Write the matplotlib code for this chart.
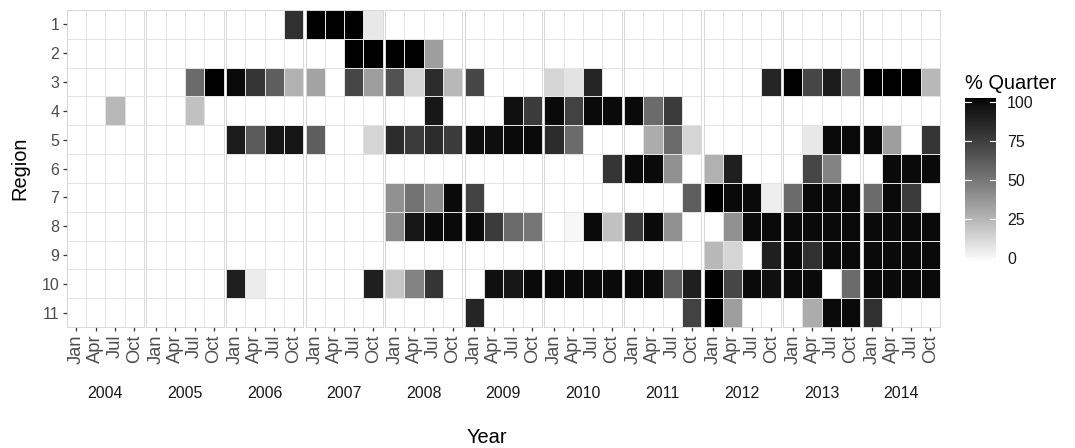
import numpy as np
import matplotlib
matplotlib.use("Agg")
import matplotlib.pyplot as plt
from matplotlib.colors import ListedColormap

plt.rcParams['font.family'] = ['Liberation Sans', 'DejaVu Sans']

# ---------------- data ----------------
years = [2004, 2005, 2006, 2007, 2008, 2009, 2010, 2011, 2012, 2013, 2014]
quarters = ['Jan', 'Apr', 'Jul', 'Oct']
regions = [1, 2, 3, 4, 5, 6, 7, 8, 9, 10, 11]

# % per quarter, 44 values per region (2004 Jan ... 2014 Oct)
r1 = [0, 0, 0, 0,  0, 0, 0, 0,  0, 0, 0, 80,  100, 100, 100, 8,  0, 0, 0, 0,  0, 0, 0, 0,
      0, 0, 0, 0,  0, 0, 0, 0,  0, 0, 0, 0,  0, 0, 0, 0,  0, 0, 0, 0]
r2 = [0, 0, 0, 0,  0, 0, 0, 0,  0, 0, 0, 0,  0, 0, 100, 100,  100, 100, 35, 0,  0, 0, 0, 0,
      0, 0, 0, 0,  0, 0, 0, 0,  0, 0, 0, 0,  0, 0, 0, 0,  0, 0, 0, 0]
r3 = [0, 0, 0, 0,  0, 0, 55, 100,  97, 78, 60, 28,  33, 0, 70, 35,  65, 15, 82, 25,  70, 0, 0, 0,
      15, 10, 85, 0,  0, 0, 0, 0,  0, 0, 0, 85,  100, 70, 90, 55,  100, 100, 100, 25]
r4 = [0, 0, 25, 0,  0, 0, 22, 0,  0, 0, 0, 0,  0, 0, 0, 0,  0, 0, 92, 0,  0, 0, 95, 75,
      97, 72, 97, 97,  97, 55, 75, 0,  0, 0, 0, 0,  0, 0, 0, 0,  0, 0, 0, 0]
r5 = [0, 0, 0, 0,  0, 0, 0, 0,  90, 62, 93, 93,  60, 0, 0, 15,  82, 75, 82, 75,  96, 96, 97, 97,
      82, 55, 0, 0,  0, 30, 55, 15,  0, 0, 0, 0,  0, 8, 97, 97,  97, 35, 0, 78]
r6 = [0, 0, 0, 0,  0, 0, 0, 0,  0, 0, 0, 0,  0, 0, 0, 0,  0, 0, 0, 0,  0, 0, 0, 0,
      0, 0, 0, 78,  97, 97, 40, 0,  28, 88, 0, 0,  0, 70, 45, 0,  0, 97, 97, 97]
r7 = [0, 0, 0, 0,  0, 0, 0, 0,  0, 0, 0, 0,  0, 0, 0, 0,  40, 52, 42, 97,  72, 0, 0, 0,
      0, 0, 0, 0,  0, 0, 0, 60,  100, 97, 97, 6,  55, 97, 97, 97,  55, 97, 75, 0]
r8 = [0, 0, 0, 0,  0, 0, 0, 0,  0, 0, 0, 0,  0, 0, 0, 0,  42, 92, 97, 97,  97, 75, 55, 50,
      0, 3, 97, 22,  75, 97, 40, 0,  0, 40, 97, 97,  97, 97, 97, 97,  97, 97, 97, 97]
r9 = [0, 0, 0, 0,  0, 0, 0, 0,  0, 0, 0, 0,  0, 0, 0, 0,  0, 0, 0, 0,  0, 0, 0, 0,
      0, 0, 0, 0,  0, 0, 0, 0,  25, 15, 0, 88,  97, 80, 97, 97,  97, 97, 97, 97]
r10 = [0, 0, 0, 0,  0, 0, 0, 0,  88, 7, 0, 0,  0, 0, 0, 88,  20, 45, 78, 0,  0, 95, 92, 97,
       97, 97, 97, 97,  97, 97, 60, 88,  100, 70, 97, 95,  97, 97, 0, 55,  97, 97, 97, 97]
r11 = [0, 0, 0, 0,  0, 0, 0, 0,  0, 0, 0, 0,  0, 0, 0, 0,  0, 0, 0, 0,  85, 0, 0, 0,
       0, 0, 0, 0,  0, 0, 0, 72,  100, 35, 0, 0,  0, 30, 97, 97,  80, 0, 0, 0]

values = np.array([r1, r2, r3, r4, r5, r6, r7, r8, r9, r10, r11], dtype=float)

# ---------------- colour scale (white -> black, Lab interpolation) ----------------
def lab_gray(t):
    L = 100.0 * (1.0 - t)
    fy = (L + 16.0) / 116.0
    Y = np.where(L > 8, fy ** 3, L / 903.3)
    return np.where(Y <= 0.0031308, 12.92 * Y, 1.055 * np.power(Y, 1 / 2.4) - 0.055)

g = np.clip(lab_gray(np.linspace(0, 1, 256)), 0, 1)
cmap = ListedColormap(np.column_stack([g, g, g]))

# ---------------- figure ----------------
W, H = 1075, 448
fig = plt.figure(figsize=(W / 100, H / 100), dpi=100)

left, right, top, bottom = 66.7, 940.0, 10.0, 327.0
gap = 2.3
pw = (right - left - gap * (len(years) - 1)) / len(years)

txt_col = '#4d4d4d'
for i, yr in enumerate(years):
    x0 = left + i * (pw + gap)
    ax = fig.add_axes([x0 / W, 1 - bottom / H, pw / W, (bottom - top) / H])
    data = values[:, i * 4:(i + 1) * 4]
    xe = np.arange(0.5, len(quarters) + 1, 1.0)
    ye = np.arange(0.5, len(regions) + 1, 1.0)
    ax.pcolormesh(xe, ye, data, cmap=cmap, vmin=0, vmax=100,
                  edgecolors='#e3e3e3', linewidth=0.45)
    ax.set_xlim(0.5, 4.5)
    ax.set_ylim(11.5, 0.5)
    ax.set_xticks(range(1, 5))
    ax.set_xticklabels(quarters, rotation=90, fontsize=13.2, color=txt_col)
    if i == 0:
        ax.set_yticks(range(1, 12))
        ax.set_yticklabels([str(r) for r in regions], fontsize=11.5, color=txt_col)
    else:
        ax.set_yticks([])
    ax.tick_params(axis='both', length=3.2, width=0.9, color='#333333', pad=2)
    for s in ax.spines.values():
        s.set_color('#d4d4d4')
        s.set_linewidth(0.6)
    fig.text((x0 + pw / 2) / W, 1 - 393 / H, str(yr), ha='center', va='center',
             fontsize=11.5, color='#1a1a1a')

fig.text(487 / W, 1 - 437 / H, 'Year', ha='center', va='center', fontsize=14.4, color='black')
fig.text(20 / W, 1 - 168 / H, 'Region', ha='center', va='center', rotation=90,
         fontsize=14.4, color='black')

# ---------------- colour bar legend ----------------
cb_l, cb_r, cb_t, cb_b = 965.0, 996.0, 98.0, 262.0
cax = fig.add_axes([cb_l / W, 1 - cb_b / H, (cb_r - cb_l) / W, (cb_b - cb_t) / H])
grad = np.linspace(0, 100, 300).reshape(-1, 1)
cax.imshow(grad, origin='lower', aspect='auto', cmap=cmap, vmin=0, vmax=100,
           extent=[0, 1, -2.5, 102.5])
cax.set_xlim(0, 1)
cax.set_ylim(-2.5, 102.5)
cb_ticks = [0, 25, 50, 75, 100]
for v in cb_ticks:
    cax.plot([0, 0.2], [v, v], color='white', lw=0.8)
    cax.plot([0.8, 1], [v, v], color='white', lw=0.8)
cax.set_xticks([])
cax.yaxis.tick_right()
cax.set_yticks(cb_ticks)
cax.set_yticklabels([str(v) for v in cb_ticks], fontsize=11.5, color='#1a1a1a')
cax.tick_params(axis='y', length=0, pad=8)
for s in cax.spines.values():
    s.set_visible(False)
fig.text(cb_l / W, 1 - 83 / H, '% Quarter', ha='left', va='center', fontsize=14.4, color='black')

fig.savefig('out.png', dpi=100)
